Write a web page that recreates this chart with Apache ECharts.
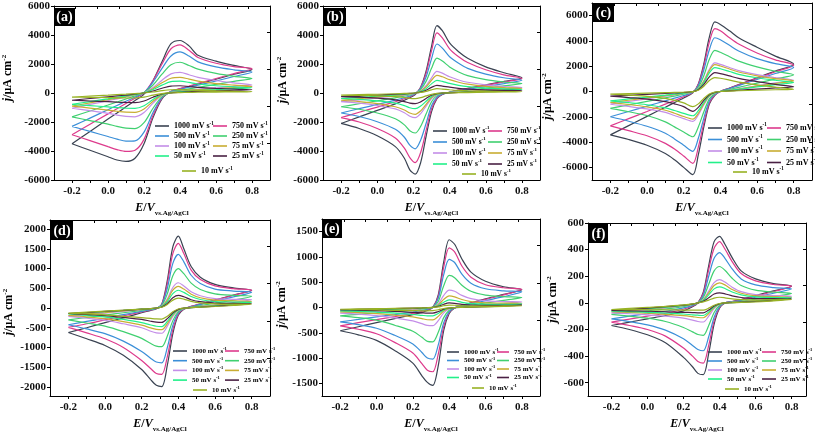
<!DOCTYPE html>
<html><head><meta charset="utf-8">
<script src="https://cdn.jsdelivr.net/npm/echarts@6/dist/echarts.min.js"></script>
<style>html,body{margin:0;padding:0;background:#fff}#c{width:815px;height:434px}</style>
</head><body><div id="c"></div>
<script>
// ---------- data ----------
const rates = ['1000','750','500','250','100','75','50','25','10'];
const legendCol1 = ['1000','500','100','50'];
const legendCol2 = ['750','250','75','25'];
const legendCol3 = ['10'];
const xTickLabels = [-0.2, 0, 0.2, 0.4, 0.6, 0.8];
const xMinorTicks = [-0.2,-0.1,0,0.1,0.2,0.3,0.4,0.5,0.6,0.7,0.8];
const yTicksA = [-6000,-4000,-2000,0,2000,4000,6000];
const yTicksB = [-6000,-4000,-2000,0,2000,4000,6000];
const yTicksC = [-6000,-4000,-2000,0,2000,4000,6000];
const yTicksD = [-2000,-1500,-1000,-500,0,500,1000,1500,2000];
const yTicksE = [-1500,-1000,-500,0,500,1000,1500];
const yTicksF = [-600,-400,-200,0,200,400,600];

// (a)
const aE = [-0.2,-0.1,0,0.05,0.1,0.15,0.2,0.25,0.3,0.35,0.4,0.45,0.5,0.6,0.7,0.8];
const aFwd = [
 [-3500,-2650,-1800,-1380,-950,-520,-80,850,2150,3400,3620,3250,2600,2200,1900,1620],
 [-2880,-2160,-1440,-1080,-720,-360,0,850,2000,3050,3320,2950,2450,2050,1820,1680],
 [-2300,-1730,-1150,-860,-570,-280,20,750,1700,2550,2830,2550,2150,1800,1600,1450],
 [-1650,-1240,-830,-620,-410,-200,30,550,1300,1950,2120,1900,1650,1350,1150,1000],
 [-1050,-790,-530,-400,-270,-130,20,380,880,1320,1420,1260,1080,860,700,560],
 [-900,-680,-460,-350,-240,-120,10,300,700,1020,1080,960,820,650,540,450],
 [-780,-590,-400,-300,-200,-100,10,240,540,790,820,730,620,500,420,360],
 [-500,-380,-260,-200,-140,-70,0,140,330,480,500,450,390,320,270,230],
 [-280,-210,-150,-110,-80,-40,0,70,160,225,235,210,180,140,110,90]];
const aRev = [
 [-3500,-3950,-4400,-4620,-4720,-4500,-3500,-1700,-400,100,280,450,620,950,1290,1620],
 [-2880,-3280,-3700,-3900,-4030,-3950,-3200,-1550,-350,120,300,480,660,1000,1340,1680],
 [-2300,-2650,-3000,-3180,-3320,-3300,-2700,-1350,-300,100,250,400,540,830,1140,1450],
 [-1650,-1900,-2150,-2300,-2420,-2450,-2050,-1050,-250,60,180,290,390,600,800,1000],
 [-1050,-1220,-1400,-1520,-1610,-1640,-1350,-700,-150,40,120,190,250,360,460,560],
 [-900,-1040,-1180,-1260,-1320,-1330,-1100,-570,-130,30,100,160,210,290,370,450],
 [-780,-870,-960,-1010,-1050,-1060,-880,-450,-100,20,80,130,170,230,300,360],
 [-500,-550,-600,-630,-650,-660,-550,-290,-70,10,50,80,110,150,190,230],
 [-280,-300,-320,-330,-340,-345,-290,-150,-40,5,25,40,55,65,80,90]];

// (b)
const bE = [-0.2,-0.1,0,0.1,0.15,0.18,0.21,0.24,0.27,0.3,0.33,0.36,0.4,0.45,0.5,0.6,0.7,0.8];
const bFwd = [
 [-2100,-1650,-1200,-750,-500,-330,-100,400,1500,3200,4650,4300,3450,2850,2400,1800,1400,1050],
 [-1700,-1330,-970,-600,-400,-260,-60,380,1350,2900,4150,3800,3050,2500,2100,1600,1250,1000],
 [-1380,-1080,-790,-490,-330,-210,-40,330,1100,2350,3380,3100,2500,2050,1700,1300,1050,880],
 [-950,-740,-540,-330,-220,-140,-20,250,800,1700,2400,2200,1800,1450,1200,920,760,650],
 [-600,-470,-340,-210,-140,-90,-10,160,500,1050,1490,1370,1120,900,740,560,450,380],
 [-500,-390,-280,-170,-110,-70,0,140,420,880,1220,1120,920,740,610,460,380,320],
 [-380,-300,-220,-130,-85,-50,0,100,300,630,870,800,660,530,440,340,285,250],
 [-250,-195,-140,-85,-55,-30,0,65,190,390,525,480,400,320,270,210,185,170],
 [-150,-115,-85,-50,-30,-18,0,35,110,220,295,270,225,180,150,120,100,90]];
const bRev = [
 [-2100,-2450,-2950,-3700,-4500,-5300,-5600,-4800,-3000,-1300,-400,-100,50,200,320,560,800,1050],
 [-1700,-2000,-2450,-3100,-3800,-4450,-4800,-4100,-2600,-1100,-350,-80,60,200,310,530,760,1000],
 [-1380,-1620,-1980,-2500,-3050,-3600,-3850,-3250,-2100,-880,-280,-60,50,160,250,440,650,880],
 [-950,-1120,-1380,-1780,-2200,-2600,-2760,-2300,-1450,-600,-180,-30,40,120,190,330,490,650],
 [-600,-700,-860,-1100,-1360,-1600,-1700,-1420,-900,-380,-110,-20,30,80,120,200,290,380],
 [-500,-590,-730,-950,-1170,-1380,-1470,-1230,-780,-320,-90,-15,25,65,100,170,240,320],
 [-380,-440,-540,-700,-870,-1020,-1080,-900,-570,-240,-70,-10,20,50,80,130,190,250],
 [-250,-290,-360,-470,-590,-700,-735,-610,-380,-160,-45,-5,15,35,55,90,130,170],
 [-150,-170,-200,-250,-310,-370,-385,-320,-200,-90,-25,0,10,20,30,50,70,90]];

// (c)
const cE = [-0.2,-0.1,0,0.1,0.15,0.2,0.25,0.28,0.31,0.34,0.37,0.4,0.45,0.5,0.6,0.7,0.8];
const cFwd = [
 [-3430,-2700,-1970,-1240,-880,-510,-100,600,2200,4300,5500,5300,4800,4250,3500,2800,2160],
 [-2720,-2150,-1580,-1000,-720,-420,-80,550,2000,3900,4980,4800,4250,3750,3050,2500,2080],
 [-2000,-1580,-1160,-740,-530,-320,-60,450,1700,3300,4250,4100,3650,3200,2600,2200,1900],
 [-1340,-1060,-780,-500,-360,-210,-40,330,1250,2550,3250,3100,2750,2400,1950,1600,1320],
 [-1000,-790,-580,-370,-270,-160,-30,230,850,1750,2260,2150,1900,1650,1330,1100,900],
 [-870,-690,-510,-330,-240,-140,-25,210,800,1650,2120,2020,1780,1540,1240,1020,840],
 [-740,-590,-440,-290,-210,-125,-20,190,710,1470,1890,1800,1580,1360,1090,890,710],
 [-370,-300,-230,-160,-120,-80,-15,140,560,1160,1490,1420,1230,1040,780,560,370],
 [-210,-170,-130,-90,-70,-45,-10,100,420,870,1100,1050,900,740,520,340,180]];
const cRev = [
 [-3430,-3800,-4250,-4900,-5400,-6000,-6580,-5000,-2800,-1000,-300,0,270,540,1080,1620,2160],
 [-2720,-3100,-3500,-4100,-4550,-5100,-5680,-4400,-2500,-900,-280,0,260,520,1040,1560,2080],
 [-2000,-2350,-2750,-3300,-3750,-4250,-4730,-3700,-2100,-750,-230,0,240,470,950,1420,1900],
 [-1340,-1600,-1900,-2400,-2800,-3200,-3580,-2800,-1600,-580,-170,0,160,330,660,990,1320],
 [-1000,-1180,-1380,-1650,-1900,-2150,-2360,-1850,-1050,-380,-110,0,110,220,450,680,900],
 [-870,-1030,-1220,-1480,-1720,-1980,-2180,-1720,-980,-350,-100,0,100,200,420,630,840],
 [-740,-880,-1050,-1300,-1500,-1730,-1920,-1520,-870,-310,-90,0,90,180,360,540,710],
 [-370,-480,-600,-800,-980,-1200,-1570,-1250,-700,-250,-70,0,50,100,190,280,370],
 [-210,-290,-380,-540,-700,-900,-1200,-980,-550,-200,-50,0,30,60,100,140,180]];

// (d)
const dE = [-0.2,-0.1,0,0.1,0.2,0.25,0.28,0.31,0.34,0.37,0.4,0.43,0.47,0.52,0.6,0.7,0.8];
const dFwd = [
 [-620,-500,-370,-250,-120,-60,-20,100,700,1550,1820,1500,1050,780,600,510,450],
 [-490,-400,-300,-200,-100,-50,-15,90,620,1380,1640,1380,960,720,560,490,450],
 [-425,-340,-260,-170,-85,-40,-10,80,500,1130,1360,1170,830,620,480,430,400],
 [-300,-240,-180,-120,-60,-30,-5,60,360,820,1000,870,630,470,360,320,300],
 [-210,-170,-130,-85,-40,-20,0,45,230,520,640,560,410,310,240,220,210],
 [-190,-150,-115,-75,-35,-18,0,40,200,450,550,480,350,260,200,180,170],
 [-150,-120,-90,-60,-28,-14,0,32,160,365,450,395,290,215,165,150,145],
 [-140,-115,-88,-60,-30,-15,0,25,115,260,320,285,210,160,125,115,110],
 [-130,-105,-80,-55,-28,-14,0,20,90,200,250,225,170,130,105,98,95]];
const dRev = [
 [-620,-780,-950,-1200,-1560,-1820,-1960,-1990,-1450,-650,-180,-30,40,100,200,330,450],
 [-490,-630,-780,-1000,-1330,-1540,-1660,-1680,-1230,-550,-150,-25,40,100,200,320,450],
 [-425,-530,-650,-840,-1100,-1280,-1370,-1390,-1000,-440,-120,-20,30,90,170,280,400],
 [-300,-380,-460,-600,-770,-900,-965,-980,-710,-320,-90,-15,20,60,120,200,300],
 [-210,-260,-310,-400,-500,-590,-630,-640,-460,-210,-60,-10,15,40,80,140,210],
 [-190,-225,-270,-345,-435,-505,-540,-550,-395,-180,-50,-8,12,35,65,115,170],
 [-150,-185,-225,-290,-370,-430,-462,-470,-340,-155,-45,-6,10,28,55,95,145],
 [-140,-165,-195,-240,-290,-335,-358,-365,-270,-120,-35,-5,8,22,45,75,110],
 [-130,-150,-175,-210,-245,-265,-276,-280,-210,-95,-25,-3,8,20,38,65,95]];

// (e)
const eE = [-0.2,-0.1,0,0.1,0.2,0.25,0.28,0.31,0.34,0.37,0.4,0.43,0.47,0.52,0.6,0.7,0.8];
const eFwd = [
 [-460,-380,-300,-220,-140,-95,-60,0,250,900,1340,1250,960,700,520,410,350],
 [-365,-300,-240,-180,-115,-75,-45,5,220,800,1180,1100,820,600,450,390,360],
 [-285,-235,-185,-140,-90,-60,-35,5,180,650,950,890,660,480,370,330,310],
 [-165,-135,-110,-80,-52,-35,-20,5,120,430,635,590,440,320,245,215,200],
 [-110,-90,-70,-50,-32,-22,-12,5,70,240,345,320,240,175,132,118,110],
 [-85,-70,-55,-40,-25,-17,-9,4,50,160,228,210,158,118,92,87,85],
 [-65,-54,-43,-32,-20,-13,-7,3,35,105,150,138,102,77,63,63,65],
 [-45,-37,-30,-22,-14,-9,-5,2,22,65,90,82,63,49,42,43,45],
 [-35,-29,-23,-17,-11,-7,-4,1,12,35,48,44,35,28,27,31,35]];
const eRev = [
 [-460,-540,-650,-850,-1100,-1350,-1480,-1540,-1150,-450,-120,-10,40,90,170,260,350],
 [-365,-430,-520,-690,-900,-1110,-1240,-1270,-920,-380,-100,-10,35,85,160,250,360],
 [-285,-340,-410,-550,-720,-890,-1000,-1020,-740,-300,-80,-8,30,70,135,215,310],
 [-165,-200,-250,-350,-470,-590,-670,-680,-490,-200,-55,-5,20,45,90,140,200],
 [-110,-130,-160,-205,-265,-320,-355,-360,-260,-105,-30,-3,10,25,50,78,110],
 [-85,-100,-120,-150,-185,-220,-242,-245,-175,-70,-20,-2,8,18,35,58,85],
 [-65,-76,-90,-112,-138,-155,-165,-165,-118,-48,-14,-1,6,13,25,42,65],
 [-45,-52,-62,-78,-95,-105,-110,-110,-80,-33,-10,-1,4,9,17,29,45],
 [-35,-40,-46,-55,-62,-65,-65,-62,-45,-20,-6,0,3,7,13,22,35]];

// (f)
const fE = [-0.2,-0.1,0,0.1,0.2,0.25,0.28,0.31,0.34,0.37,0.4,0.43,0.47,0.52,0.6,0.7,0.8];
const fFwd = [
 [-170,-145,-120,-95,-60,-30,0,80,280,460,500,440,340,240,180,145,125],
 [-145,-122,-100,-78,-48,-24,0,70,250,410,460,405,310,220,165,138,125],
 [-120,-100,-82,-63,-38,-19,0,55,200,335,378,335,255,180,135,115,105],
 [-87,-73,-60,-46,-28,-14,0,40,140,240,273,245,185,130,95,80,70],
 [-75,-63,-50,-38,-22,-11,0,25,88,152,174,156,118,84,62,55,50],
 [-67,-56,-45,-34,-20,-10,0,22,75,130,150,135,100,72,53,47,42],
 [-62,-52,-42,-32,-19,-10,0,18,60,105,120,108,82,60,45,40,37],
 [-57,-48,-39,-29,-17,-9,0,12,38,66,75,68,53,40,32,31,30],
 [-50,-42,-34,-26,-15,-8,0,7,20,36,42,38,30,24,21,23,25]];
const fRev = [
 [-170,-200,-240,-300,-410,-480,-530,-540,-380,-160,-40,0,10,25,55,90,125],
 [-145,-170,-200,-250,-340,-400,-440,-453,-320,-135,-35,0,10,22,50,85,125],
 [-120,-140,-165,-205,-270,-320,-350,-360,-255,-108,-28,0,8,18,42,72,105],
 [-87,-100,-115,-140,-185,-218,-238,-244,-170,-72,-20,0,5,12,28,48,70],
 [-75,-82,-90,-100,-115,-130,-140,-144,-100,-44,-12,0,3,8,18,33,50],
 [-67,-72,-78,-86,-96,-104,-110,-112,-80,-35,-10,0,3,7,15,28,42],
 [-62,-66,-71,-77,-84,-90,-93,-95,-68,-30,-8,0,2,6,13,24,37],
 [-57,-60,-63,-67,-71,-73,-75,-75,-54,-24,-7,0,2,5,10,18,30],
 [-50,-51,-52,-53,-54,-55,-55,-55,-40,-18,-5,0,1,3,7,14,25]];

// ---------- styling ----------
const FONT = "'Liberation Serif','Times New Roman',serif";
const colors = ['#3a4352','#dd3a8c','#3b8fd8','#40d070','#c48ee8','#c9ad33','#22f08a','#4a2144','#98b224'];
const panelLabels = ['(a)','(b)','(c)','(d)','(e)','(f)'];
const panels = [
 {E:aE,f:aFwd,r:aRev,yt:yTicksA,ymin:-6000,ymax:6000,xmin:-0.3,xmax:0.9,g:{left:53,top:6,width:217,height:174},ng:39,np:[0,0,0,30],
  lg:{L:155,C:58,fs:8,y0:126,p:10,L2:182,y2:171,iw:14},box:[54,8,21,18]},
 {E:bE,f:bFwd,r:bRev,yt:yTicksB,ymin:-6000,ymax:6000,xmin:-0.3,xmax:0.9,g:{left:323,top:6,width:217,height:174},ng:32,np:[0,0,0,26],
  lg:{L:433,C:55,fs:7.5,y0:131,p:11,L2:462,y2:174,iw:14},box:[324,8,22,18]},
 {E:cE,f:cFwd,r:cRev,yt:yTicksC,ymin:-7000,ymax:7000,xmin:-0.3,xmax:0.9,g:{left:592,top:3,width:220,height:177},ng:37,np:[0,10,0,0],
  lg:{L:708,C:59,fs:8,y0:128,p:11.5,L2:733,y2:172,iw:14},box:[593,4,21,18]},
 {E:dE,f:dFwd,r:dRev,yt:yTicksD,ymin:-2230,ymax:2230,xmin:-0.3,xmax:0.9,g:{left:50,top:220,width:220,height:177},ng:34,np:[0,8,0,0],
  lg:{L:173,C:52,fs:7,y0:351,p:9.7,L2:193,y2:390,iw:14},box:[51,221,22,19]},
 {E:eE,f:eFwd,r:eRev,yt:yTicksE,ymin:-1750,ymax:1750,xmin:-0.3,xmax:0.9,g:{left:322,top:219,width:218,height:178},ng:32,np:[0,0,0,6],
  lg:{L:447,C:50,fs:7,y0:352,p:8.5,L2:472,y2:388,iw:12},box:[322,220,20,18]},
 {E:fE,f:fFwd,r:fRev,yt:yTicksF,ymin:-700,ymax:600,xmin:-0.33,xmax:0.88,g:{left:588,top:223,width:218,height:174},ng:28,np:[0,0,0,20],
  lg:{L:708,C:54,fs:7,y0:352,p:9,L2:725,y2:389,iw:14},box:[589,224,19,19]}];

const seriesName = r => r + ' mV s-1';
const axisLblStyle = {fontFamily:FONT,fontWeight:'bold',fontSize:11,color:'#111'};

const grid=[], xAxis=[], yAxis=[], series=[], legend=[], graphic=[];
panels.forEach((P,i)=>{
  grid.push(Object.assign({containLabel:false},P.g));
  xAxis.push({type:'value',gridIndex:i,position:'bottom',min:P.xmin,max:P.xmax,
    axisLine:{show:true,onZero:false,lineStyle:{color:'#000',width:1}},
    axisTick:{show:true,inside:false,length:3,customValues:xMinorTicks,lineStyle:{color:'#000'}},
    axisLabel:Object.assign({customValues:xTickLabels,margin:6,formatter:v=>(Math.abs(v)<1e-9?0:v).toFixed(1)},axisLblStyle),
    splitLine:{show:false},
    name:'{i|E}/{i|V}{b|vs.Ag/AgCl}',nameLocation:'middle',nameGap:19,
    nameTextStyle:{fontFamily:FONT,fontWeight:'bold',fontSize:12,color:'#000',lineHeight:18,
      rich:{i:{fontFamily:FONT,fontWeight:'bold',fontStyle:'italic',fontSize:12,lineHeight:18,color:'#000'},
            b:{fontFamily:FONT,fontWeight:'bold',fontSize:7,lineHeight:9,verticalAlign:'bottom',color:'#000'}}}});
  xAxis.push({type:'value',gridIndex:i,position:'top',min:0,max:10,interval:1,
    axisLine:{show:true,onZero:false,lineStyle:{color:'#000',width:1}},
    axisTick:{show:true,inside:true,length:3,lineStyle:{color:'#000'}},
    axisLabel:{show:false},splitLine:{show:false}});
  yAxis.push({type:'value',gridIndex:i,position:'left',min:P.ymin,max:P.ymax,
    axisLine:{show:true,onZero:false,lineStyle:{color:'#000',width:1}},
    axisTick:{show:true,inside:false,length:3,customValues:P.yt,lineStyle:{color:'#000'}},
    axisLabel:Object.assign({customValues:P.yt,margin:4,formatter:v=>String(v)},axisLblStyle),
    splitLine:{show:false},
    name:'{i|j}/μA cm{s|-2}',nameLocation:'middle',nameGap:P.ng,
    nameTextStyle:{fontFamily:FONT,fontWeight:'bold',fontSize:12,color:'#000',lineHeight:14,padding:P.np,
      rich:{i:{fontFamily:FONT,fontWeight:'bold',fontStyle:'italic',fontSize:12,lineHeight:14,color:'#000'},
            s:{fontFamily:FONT,fontWeight:'bold',fontSize:7,lineHeight:8,verticalAlign:'top',color:'#000'}}}});
  yAxis.push({type:'value',gridIndex:i,position:'right',min:0,max:4.7,interval:1,
    axisLine:{show:true,onZero:false,lineStyle:{color:'#000',width:1}},
    axisTick:{show:true,inside:true,length:3,lineStyle:{color:'#000'}},
    axisLabel:{show:false},splitLine:{show:false}});

  rates.forEach((r,k)=>{
    const pts = P.E.map((e,j)=>[e,P.f[k][j]]);
    for (let j=P.E.length-2;j>=0;j--) pts.push([P.E[j],P.r[k][j]]);
    series.push({type:'line',name:seriesName(r),xAxisIndex:2*i,yAxisIndex:2*i,data:pts,
      symbol:'none',smooth:0.3,silent:true,z:2+k,
      lineStyle:{color:colors[k],width:1.2},itemStyle:{color:colors[k]}});
  });

  const L = P.lg;
  const txt = {fontFamily:FONT,fontWeight:'bold',fontSize:L.fs,color:'#000',lineHeight:L.p,
    rich:{sup:{fontFamily:FONT,fontWeight:'bold',fontSize:L.fs*0.65,lineHeight:L.fs*0.7,verticalAlign:'top',color:'#000'}}};
  const fmt = n => n.replace(' s-1',' s{sup|-1}');
  const mk = (names,left,top) => ({data:names.map(seriesName),left,top,orient:'vertical',icon:'rect',
    padding:0,itemGap:0,itemWidth:L.iw,itemHeight:1.6,selectedMode:false,textStyle:txt,formatter:fmt});
  legend.push(mk(legendCol1,L.L,L.y0-L.p/2));
  legend.push(mk(legendCol2,L.L+L.C,L.y0-L.p/2));
  legend.push(mk(legendCol3,L.L2,L.y2-L.p/2));

  const b = P.box;
  graphic.push({type:'rect',shape:{x:b[0],y:b[1],width:b[2],height:b[3]},style:{fill:'#000'},z:100});
  graphic.push({type:'text',x:b[0]+b[2]/2,y:b[1]+b[3]/2+0.5,z:101,
    style:{text:panelLabels[i],fill:'#fff',font:'bold 14px '+FONT,align:'center',verticalAlign:'middle'}});
});

const chart = echarts.init(document.getElementById('c'),null,{renderer:'canvas'});
chart.setOption({animation:false,backgroundColor:'#fff',grid,xAxis,yAxis,series,legend,graphic});
</script></body></html>
